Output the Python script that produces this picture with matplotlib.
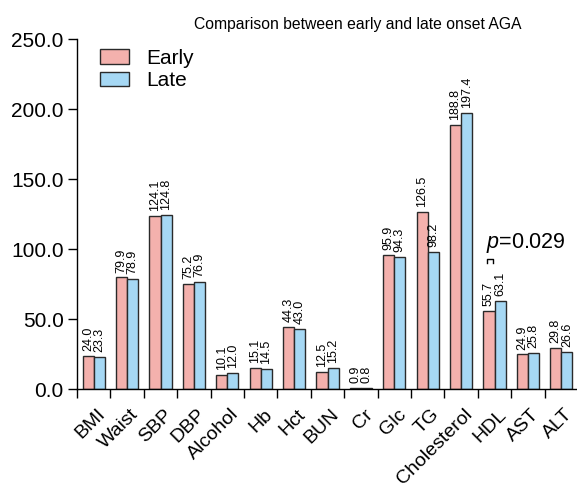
import numpy as np
import matplotlib
matplotlib.use("Agg")
import matplotlib.pyplot as plt
from matplotlib.transforms import ScaledTranslation

plt.rcParams['font.family'] = ['Liberation Sans', 'DejaVu Sans']
plt.rcParams['mathtext.fontset'] = 'custom'
plt.rcParams['mathtext.rm'] = 'Liberation Sans'
plt.rcParams['mathtext.it'] = 'Liberation Sans:italic'

categories = ['BMI', 'Waist', 'SBP', 'DBP', 'Alcohol', 'Hb', 'Hct', 'BUN', 'Cr',
              'Glc', 'TG', 'Cholesterol', 'HDL', 'AST', 'ALT']
early = [24.0, 79.9, 124.1, 75.2, 10.1, 15.1, 44.3, 12.5, 0.9, 95.9, 126.5, 188.8, 55.7, 24.9, 29.8]
late = [23.3, 78.9, 124.8, 76.9, 12.0, 14.5, 43.0, 15.2, 0.8, 94.3, 98.2, 197.4, 63.1, 25.8, 26.6]
yticks = [0, 50, 100, 150, 200, 250]
p_label = r'$p$=0.029'

early_col = '#f4b1ad'
late_col = '#a6d8f4'
edge_col = '#2a2a2a'

W, H = 577, 488
fig = plt.figure(figsize=(W / 100, H / 100), dpi=100)
ax = fig.add_axes([77 / W, 98.7 / H, 501 / W, 350 / H])

# R style barplot: bar width 1, one unit gap between groups
n = len(categories)
x_early = np.arange(n) * 3 + 1.5
x_late = x_early + 1
centers = x_early + 0.5
bounds = np.arange(n) * 3 + 0.5

b1 = ax.bar(x_early, early, width=1, color=early_col, edgecolor=edge_col, linewidth=1.0, label='Early')
b2 = ax.bar(x_late, late, width=1, color=late_col, edgecolor=edge_col, linewidth=1.0, label='Late')

for xs, vals in ((x_early, early), (x_late, late)):
    for xv, v in zip(xs, vals):
        ax.annotate(f'{v:.1f}', (xv, v), xytext=(0, 3.5), textcoords='offset points',
                    rotation=90, ha='center', va='bottom', fontsize=9)

ax.set_xlim(0.5, 45.5)
ax.set_ylim(0, 250)
ax.set_yticks(yticks, [f'{t:.1f}' for t in yticks], fontsize=15)
ax.set_xticks(bounds, [''] * n)
ax.tick_params(axis='both', which='major', length=6.5, width=1.0, direction='out', pad=3)
for s in ('top', 'right'):
    ax.spines[s].set_visible(False)
ax.spines['left'].set_linewidth(1.0)
ax.spines['bottom'].set_linewidth(1.0)

# rotated category names, right end a bit past the group centre
shift = ScaledTranslation(3 / 100, -16.5 / 100, fig.dpi_scale_trans)
for c, name in zip(centers, categories):
    ax.text(c, 0, name, transform=ax.get_xaxis_transform() + shift, rotation=45,
            ha='right', va='top', rotation_mode='anchor', fontsize=14)

ax.legend(handles=[b1, b2], loc='upper left', bbox_to_anchor=(100 / W, 1 - 49 / H),
          bbox_transform=fig.transFigure, frameon=False, fontsize=15,
          handlelength=1.4, handleheight=0.7, handletextpad=0.8, labelspacing=0.15,
          borderpad=0, borderaxespad=0)

# significance mark for HDL
ax.text(37.24, 100.9, p_label, fontsize=15.5, ha='left', va='baseline')
ax.plot([37.36, 37.36, 37.9, 37.9], [90.0, 92.9, 92.9, 90.0], color='black', lw=1.0)

fig.text(357.5 / W, 1 - 29 / H, 'Comparison between early and late onset AGA',
         ha='center', va='baseline', fontsize=11.35)

fig.savefig('out.png', dpi=100)
